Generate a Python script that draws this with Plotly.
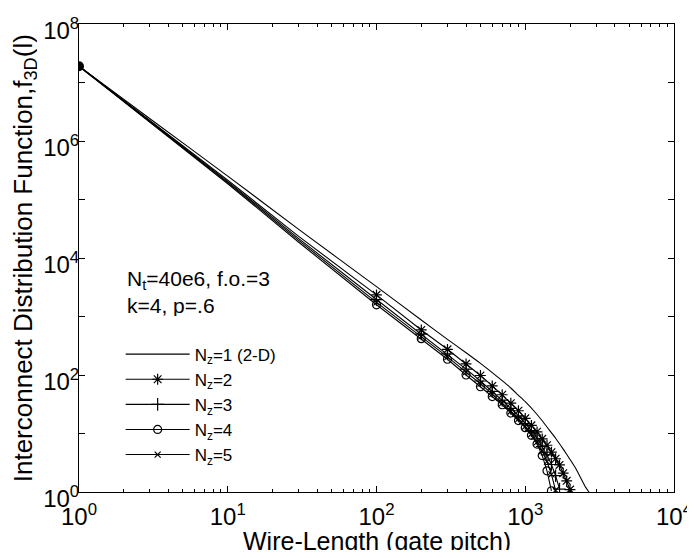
import plotly.graph_objects as go

# ---------------- data ----------------
# 2-D curve (N_z = 1): wire length l and f(l)
l_2d = [1, 3, 10, 30, 100, 200, 300, 400, 500, 600, 700, 800, 900, 1000, 1150, 1300, 1450, 1600,
        1800, 2000, 2200, 2400, 2550, 2680]
f_2d = [1.9e7, 2.4e6, 2.51e5, 3.09e4, 3236, 871, 407, 240, 158, 110, 80, 60, 45, 35, 24, 16.5, 11.5, 8.3,
        5.4, 3.6, 2.45, 1.6, 1.2, 1.0]

# short-length part of the 3-D curves (no markers there)
l_head = [1, 3, 10, 30]
f_head_nz2 = [1.9e7, 2.24e6, 2.14e5, 2.34e4]
f_head_nz3 = [1.9e7, 2.19e6, 2.04e5, 2.14e4]
f_head_nz4 = [1.9e7, 2.09e6, 1.86e5, 1.86e4]
f_head_nz5 = [1.9e7, 2.14e6, 1.95e5, 2.0e4]

# marked part of the 3-D curves (markers every 100 gate pitches)
l_nz2 = [100, 200, 300, 400, 500, 600, 700, 800, 900, 1000, 1100, 1200, 1300, 1400, 1500, 1600, 1700, 1800, 1900, 2000]
f_nz2 = [2344, 589, 275, 155, 98, 65, 46, 33, 24.5, 18.2, 13.8, 10.7, 8.1, 6.3, 4.8, 3.7, 2.9, 2.1, 1.55, 1.1]

l_nz3 = [100, 200, 300, 400, 500, 600, 700, 800, 900, 1000, 1100, 1200, 1300, 1400, 1500, 1600, 1700]
f_nz3 = [1950, 501, 229, 126, 79, 52.5, 37.2, 26.9, 20, 14.8, 11.2, 8.3, 6.0, 4.3, 2.95, 1.9, 1.12]

l_nz4 = [100, 200, 300, 400, 500, 600, 700, 800, 900, 1000, 1100, 1200, 1300, 1400, 1500]
f_nz4 = [1585, 417, 186, 100, 63, 42.7, 31, 22.4, 16.6, 12.6, 9.3, 6.6, 4.2, 2.3, 1.05]

l_nz5 = [100, 200, 300, 400, 500, 600, 700, 800, 900, 1000, 1100, 1200, 1300, 1400, 1500, 1600]
f_nz5 = [1740, 457, 204, 112, 71, 47, 33, 24, 17.8, 13.2, 9.8, 7.1, 5.0, 3.3, 2.0, 1.07]

# common starting point
l_start = [1]
f_start = [1.9e7]

x_tick_vals = [1, 10, 100, 1000, 10000]
x_tick_text = ["10<sup>0</sup>", "10<sup>1</sup>", "10<sup>2</sup>", "10<sup>3</sup>", "10<sup>4</sup>"]
y_tick_vals = [1, 10, 100, 1e3, 1e4, 1e5, 1e6, 1e7, 1e8]
y_tick_text = ["10<sup>0</sup>", "", "10<sup>2</sup>", "", "10<sup>4</sup>", "", "10<sup>6</sup>", "", "10<sup>8</sup>"]
x_minor_vals = [m * 10 ** d for d in range(4) for m in range(2, 10)]

legend_names = ["N<sub>z</sub>=1 (2-D)", "N<sub>z</sub>=2", "N<sub>z</sub>=3", "N<sub>z</sub>=4", "N<sub>z</sub>=5"]
x_title = "Wire-Length (gate pitch)"
y_title = "Interconnect Distribution Function,f<sub>3D</sub>(l)"
note_1 = "N<sub>t</sub>=40e6, f.o.=3"
note_2 = "k=4, p=.6"

# ---------------- figure ----------------
# (the page body adds an 8 px margin, so the figure is 8 px smaller than the window)
FONT = "Liberation Sans, Arial, Helvetica, sans-serif"
BLACK = "black"
fig = go.Figure()

fig.add_trace(go.Scatter(x=l_2d, y=f_2d, mode="lines", name=legend_names[0],
                         line=dict(color=BLACK, width=1.1, shape="spline", smoothing=0.6)))

series = [
    (f_head_nz2, l_nz2, f_nz2, "asterisk-open", 9, legend_names[1]),
    (f_head_nz3, l_nz3, f_nz3, "cross-thin-open", 9, legend_names[2]),
    (f_head_nz4, l_nz4, f_nz4, "circle-open", 8, legend_names[3]),
    (f_head_nz5, l_nz5, f_nz5, "x-thin-open", 6, legend_names[4]),
]
for i, (fh, lm, fm, sym, sz, nm) in enumerate(series):
    fig.add_trace(go.Scatter(x=l_head + lm[:1], y=fh + fm[:1], mode="lines",
                             line=dict(color=BLACK, width=1.1), showlegend=False,
                             legendgroup=f"g{i}", hoverinfo="skip"))
    fig.add_trace(go.Scatter(x=lm, y=fm, mode="lines+markers", name=nm, legendgroup=f"g{i}",
                             line=dict(color=BLACK, width=1.1),
                             marker=dict(symbol=sym, size=sz, color=BLACK,
                                         line=dict(color=BLACK, width=1.2))))

fig.add_trace(go.Scatter(x=l_start, y=f_start, mode="markers", showlegend=False,
                         marker=dict(symbol="circle", size=10, color=BLACK)))

axis_common = dict(type="log", showgrid=False, zeroline=False, showline=True,
                   linecolor=BLACK, linewidth=1, mirror="ticks", ticks="inside",
                   tickcolor=BLACK, ticklen=6, tickwidth=1, automargin=False,
                   ticklabeloverflow="allow",
                   tickfont=dict(family=FONT, size=24, color=BLACK))

fig.update_xaxes(**axis_common, range=[0, 4], tickmode="array",
                 tickvals=x_tick_vals, ticktext=x_tick_text, ticklabelstandoff=3,
                 minor=dict(tickmode="array", tickvals=x_minor_vals, ticks="inside",
                            ticklen=3, tickcolor=BLACK, showgrid=False))
fig.update_yaxes(**axis_common, range=[0, 8], tickmode="array",
                 tickvals=y_tick_vals, ticktext=y_tick_text, ticklabelshift=7,
                 ticklabelstandoff=-6)

# axis titles
fig.add_annotation(x=0.5, y=-0.104, xref="paper", yref="paper", xanchor="center", yanchor="middle",
                   text=x_title, showarrow=False, height=18,
                   font=dict(family=FONT, size=25, color=BLACK))
fig.add_annotation(x=-0.092, y=0.5, xref="paper", yref="paper", xanchor="center", yanchor="middle",
                   text=y_title, textangle=-90, showarrow=False, height=26,
                   font=dict(family=FONT, size=26, color=BLACK))

# parameter notes
fig.add_annotation(x=0.31, y=3.62, xref="x", yref="y", xanchor="left", yanchor="middle",
                   text=note_1, showarrow=False, height=22,
                   font=dict(family=FONT, size=21, color=BLACK))
fig.add_annotation(x=0.31, y=3.2, xref="x", yref="y", xanchor="left", yanchor="middle",
                   text=note_2, showarrow=False, height=22,
                   font=dict(family=FONT, size=21, color=BLACK))

fig.update_layout(
    width=687, height=550,
    margin=dict(l=71, r=21, t=16, b=66),
    paper_bgcolor="white", plot_bgcolor="white",
    font=dict(family=FONT, color=BLACK),
    legend=dict(x=0.07, y=0.332, xanchor="left", yanchor="top",
                bgcolor="rgba(0,0,0,0)", borderwidth=0,
                font=dict(family=FONT, size=17, color=BLACK),
                itemwidth=64, tracegroupgap=0),
)

fig.write_html("out.html")
